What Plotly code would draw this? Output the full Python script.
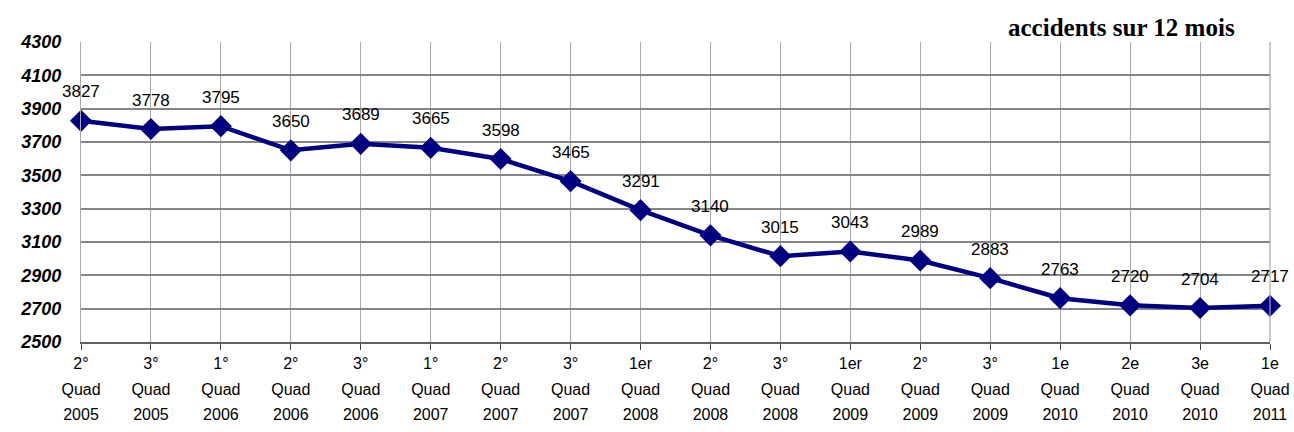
import plotly.graph_objects as go

values = [3827, 3778, 3795, 3650, 3689, 3665, 3598, 3465, 3291, 3140,
          3015, 3043, 2989, 2883, 2763, 2720, 2704, 2717]
quad_rank = ["2°", "3°", "1°", "2°", "3°", "1°", "2°", "3°", "1er", "2°",
             "3°", "1er", "2°", "3°", "1e", "2e", "3e", "1e"]
quad_word = ["Quad"] * 18
years = ["2005", "2005", "2006", "2006", "2006", "2007", "2007", "2007", "2008", "2008",
         "2008", "2009", "2009", "2009", "2010", "2010", "2010", "2011"]
y_ticks = [2500, 2700, 2900, 3100, 3300, 3500, 3700, 3900, 4100, 4300]

idx = list(range(len(values)))

fig = go.Figure()
fig.add_trace(go.Scatter(
    x=idx, y=values, mode="lines+markers",
    line=dict(color="#000080", width=4.5),
    marker=dict(symbol="diamond", size=17, color="#000080"),
    showlegend=False, cliponaxis=False, hoverinfo="skip"))

for i, v in zip(idx, values):
    fig.add_annotation(x=i, y=v, text=str(v), showarrow=False, yshift=29,
                       font=dict(family="Liberation Sans, Arial", size=17, color="black"))

fig.add_annotation(xref="paper", yref="paper", x=0.8755, y=1.0, yshift=15,
                   xanchor="center", yanchor="middle",
                   text="<b>accidents sur 12 mois</b>", showarrow=False,
                   font=dict(family="Liberation Serif, Times New Roman", size=25, color="black"))

common = dict(range=[0, 17], tickmode="array", tickvals=idx, automargin=False,
              tickfont=dict(family="Liberation Sans, Arial", size=16, color="black"))

fig.update_layout(
    width=1294, height=432,
    margin=dict(l=81, r=24, t=42, b=90, autoexpand=False),
    paper_bgcolor="white", plot_bgcolor="white",
    xaxis=dict(**common, ticktext=quad_rank, showgrid=True, gridcolor="#a8a8a8",
               gridwidth=1.2, ticks="outside", ticklen=6, tickcolor="#404040",
               showline=True, linecolor="#606060", linewidth=1.5, mirror=False,
               zeroline=False, ticklabelstandoff=0),
    xaxis2=dict(**common, ticktext=quad_word, overlaying="x", side="bottom",
                showgrid=False, showline=False, ticks="", zeroline=False,
                ticklabelstandoff=36, anchor="y"),
    xaxis3=dict(**common, ticktext=years, overlaying="x", side="bottom",
                showgrid=False, showline=False, ticks="", zeroline=False,
                ticklabelstandoff=61, anchor="y"),
    yaxis=dict(range=[2500, 4300], tickvals=y_ticks, showgrid=True, automargin=False,
               gridcolor="#858585", gridwidth=1.8, zeroline=False,
               showline=True, linecolor="#a8a8a8", linewidth=1.2,
               ticks="", ticklabelstandoff=15,
               tickfont=dict(family="Liberation Sans, Arial", size=18,
                             color="black", weight="bold", style="italic")),
)
# invisible traces to activate the extra axes
fig.add_trace(go.Scatter(x=idx, y=values, xaxis="x2", yaxis="y", mode="none",
                         showlegend=False, hoverinfo="skip"))
fig.add_trace(go.Scatter(x=idx, y=values, xaxis="x3", yaxis="y", mode="none",
                         showlegend=False, hoverinfo="skip"))
# right border
fig.add_shape(type="line", xref="paper", yref="paper", x0=1, x1=1, y0=0, y1=1,
              line=dict(color="#a8a8a8", width=1.2))

fig.write_html("out.html", config={"displayModeBar": False},
               post_script="document.body.style.margin='0';document.body.style.overflow='hidden';")
